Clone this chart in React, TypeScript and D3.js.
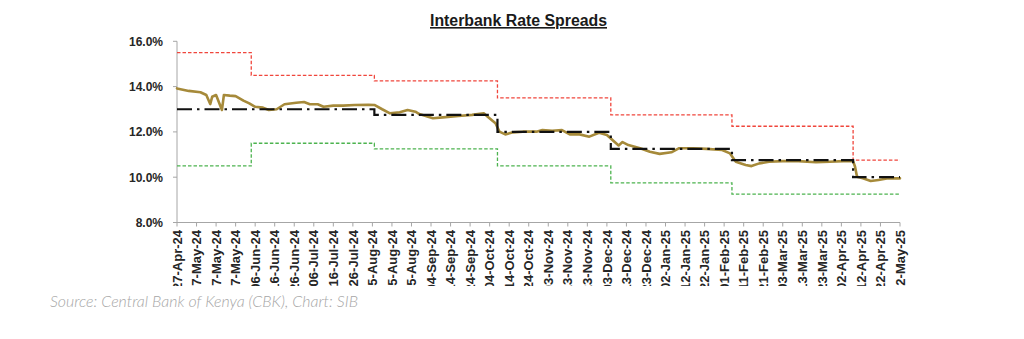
import React from 'react';
import * as d3 from 'd3';

const title = 'Interbank Rate Spreads';
const source = 'Source: Central Bank of Kenya (CBK), Chart: SIB';

const tickDates = [
  '2024-04-27', '2024-05-07', '2024-05-17', '2024-05-27', '2024-06-06', '2024-06-16', '2024-06-26',
  '2024-07-06', '2024-07-16', '2024-07-26', '2024-08-05', '2024-08-15', '2024-08-25', '2024-09-04',
  '2024-09-14', '2024-09-24', '2024-10-04', '2024-10-14', '2024-10-24', '2024-11-03', '2024-11-13',
  '2024-11-23', '2024-12-03', '2024-12-13', '2024-12-23', '2025-01-02', '2025-01-12', '2025-01-22',
  '2025-02-01', '2025-02-11', '2025-02-21', '2025-03-03', '2025-03-13', '2025-03-23', '2025-04-02',
  '2025-04-12', '2025-04-22', '2025-05-02',
];
const yTicks = [8, 10, 12, 14, 16];

// Interbank rate (gold line)
const rateDates = [
  '2024-04-27', '2024-05-03', '2024-05-09', '2024-05-12', '2024-05-14', '2024-05-15', '2024-05-17',
  '2024-05-20', '2024-05-21', '2024-05-24', '2024-05-27', '2024-05-31', '2024-06-03', '2024-06-06',
  '2024-06-10', '2024-06-13', '2024-06-17', '2024-06-21', '2024-06-27', '2024-07-01', '2024-07-04',
  '2024-07-08', '2024-07-11', '2024-07-16', '2024-07-21', '2024-07-27', '2024-08-03', '2024-08-06',
  '2024-08-10', '2024-08-14', '2024-08-19', '2024-08-23', '2024-08-27', '2024-08-29', '2024-09-05',
  '2024-09-10', '2024-09-18', '2024-09-25', '2024-10-01', '2024-10-03', '2024-10-07', '2024-10-09',
  '2024-10-12', '2024-10-16', '2024-10-21', '2024-10-28', '2024-10-31', '2024-11-05', '2024-11-10',
  '2024-11-14', '2024-11-19', '2024-11-24', '2024-11-29', '2024-12-03', '2024-12-07', '2024-12-09',
  '2024-12-11', '2024-12-14', '2024-12-20', '2024-12-25', '2024-12-30', '2025-01-05', '2025-01-09',
  '2025-01-16', '2025-01-23', '2025-01-31', '2025-02-04', '2025-02-07', '2025-02-12', '2025-02-15',
  '2025-02-19', '2025-02-24', '2025-03-03', '2025-03-11', '2025-03-20', '2025-03-27', '2025-04-03',
  '2025-04-08', '2025-04-09', '2025-04-10', '2025-04-13', '2025-04-17', '2025-04-21', '2025-04-26',
  '2025-05-02',
];
const rateValues = [
  13.92, 13.81, 13.75, 13.63, 13.23, 13.55, 13.63,
  12.97, 13.63, 13.6, 13.58, 13.38, 13.26, 13.11,
  13.07, 12.97, 13.0, 13.22, 13.29, 13.32, 13.22,
  13.22, 13.11, 13.16, 13.16, 13.19, 13.2, 13.19,
  13.0, 12.82, 12.87, 12.97, 12.89, 12.79, 12.6,
  12.64, 12.7, 12.75, 12.82, 12.67, 12.38, 12.01,
  11.89, 11.98, 12.01, 12.01, 12.08, 12.05, 12.08,
  11.89, 11.89, 11.79, 11.96, 11.86, 11.55, 11.4,
  11.55, 11.42, 11.28, 11.12, 11.03, 11.1, 11.28,
  11.28, 11.25, 11.2, 11.05, 10.68, 10.54, 10.49,
  10.61, 10.68, 10.71, 10.71, 10.66, 10.68, 10.71,
  10.71, 10.46, 10.02, 9.95, 9.83, 9.88, 9.95,
  9.95,
];

// Central Bank Rate (black dash-dot, step)
const cbrDates = ['2024-04-27', '2024-08-06', '2024-10-08', '2024-12-05', '2025-02-05', '2025-04-08', '2025-05-02'];
const cbrValues = [13.0, 12.75, 12.0, 11.25, 10.75, 10.0, 10.0];

// Upper corridor (red dashed, step)
const upperDates = ['2024-04-27', '2024-06-04', '2024-08-06', '2024-10-08', '2024-12-05', '2025-02-05', '2025-04-08', '2025-05-02'];
const upperValues = [15.5, 14.5, 14.25, 13.5, 12.75, 12.25, 10.75, 10.75];

// Lower corridor (green dashed, step)
const lowerDates = ['2024-04-27', '2024-06-04', '2024-08-06', '2024-10-08', '2024-12-05', '2025-02-05', '2025-05-02'];
const lowerValues = [10.5, 11.5, 11.25, 10.5, 9.75, 9.25, 9.25];

const parse = d3.utcParse('%Y-%m-%d');
const fmt = d3.utcFormat('%d-%b-%y');

const zip = (ds: string[], vs: number[]) => ds.map((d, i) => ({ date: parse(d) as Date, value: vs[i] }));

export default function App() {
  const W = 1024;
  const H = 339;
  const x = d3
    .scaleUtc()
    .domain([parse(tickDates[0]) as Date, parse(tickDates[tickDates.length - 1]) as Date])
    .range([177, 900]);
  const y = d3.scaleLinear().domain([8, 16]).range([222.5, 41.3]);

  const lineLinear = d3
    .line<{ date: Date; value: number }>()
    .x((d) => x(d.date))
    .y((d) => y(d.value));
  const lineStep = d3
    .line<{ date: Date; value: number }>()
    .x((d) => x(d.date))
    .y((d) => y(d.value))
    .curve(d3.curveStepAfter);

  const rate = zip(rateDates, rateValues);
  const cbr = zip(cbrDates, cbrValues);
  const upper = zip(upperDates, upperValues);
  const lower = zip(lowerDates, lowerValues);

  const [x0, x1] = x.range();
  const [yb, yt] = y.range();

  return (
    <svg
      width={W}
      height={H}
      viewBox={`0 0 ${W} ${H}`}
      style={{ position: 'absolute', left: 0, top: 0, background: '#fff' }}
    >
      <defs>
        <clipPath id="lblclip">
          <rect x={0} y={0} width={W} height={286} />
        </clipPath>
      </defs>
      <rect x={0} y={0} width={W} height={H} fill="#fff" />

      <text
        x={518.5}
        y={26}
        textAnchor="middle"
        fontFamily="'Liberation Sans', Arial, sans-serif"
        fontWeight="bold"
        fontSize={16}
        textLength={177}
        lengthAdjust="spacingAndGlyphs"
        textDecoration="underline"
        fill="#1a1a1a"
      >
        {title}
      </text>

      {/* y axis */}
      <line x1={x0} x2={x0} y1={yt} y2={yb} stroke="#a6a6a6" strokeWidth={1} />
      {yTicks.map((t) => (
        <g key={t}>
          <line x1={x0 - 4} x2={x0} y1={y(t)} y2={y(t)} stroke="#a6a6a6" strokeWidth={1} />
          <text
            x={163}
            y={y(t)}
            dy="0.36em"
            textAnchor="end"
            fontFamily="'Liberation Sans', Arial, sans-serif"
            fontWeight="bold"
            fontSize={12}
            fill="#262626"
          >
            {t.toFixed(1) + '%'}
          </text>
        </g>
      ))}

      {/* x axis */}
      <line x1={x0} x2={x1} y1={yb} y2={yb} stroke="#a6a6a6" strokeWidth={1} />
      <g clipPath="url(#lblclip)">
        {tickDates.map((d) => {
          const xx = x(parse(d) as Date);
          return (
            <g key={d}>
              <line x1={xx} x2={xx} y1={yb} y2={yb + 4} stroke="#a6a6a6" strokeWidth={1} />
              <text
                transform={`translate(${xx},230) rotate(-90)`}
                dy="0.36em"
                textAnchor="end"
                fontFamily="'Liberation Sans', Arial, sans-serif"
                fontWeight="bold"
                fontSize={13}
                fill="#262626"
              >
                {fmt(parse(d) as Date)}
              </text>
            </g>
          );
        })}
      </g>

      {/* corridor lines */}
      <path d={lineStep(upper) || ''} fill="none" stroke="#f0463c" strokeWidth={1.3} strokeDasharray="3.5,2" />
      <path d={lineStep(lower) || ''} fill="none" stroke="#4cb34f" strokeWidth={1.3} strokeDasharray="3.5,2" />

      {/* interbank rate */}
      <path
        d={lineLinear(rate) || ''}
        fill="none"
        stroke="#a68a3a"
        strokeWidth={2.6}
        strokeLinejoin="round"
        strokeLinecap="round"
      />

      {/* CBR */}
      <path d={lineStep(cbr) || ''} fill="none" stroke="#111" strokeWidth={2.2} strokeDasharray="15,5,2.5,5" />

      <text
        x={50}
        y={307}
        fontFamily="Lato, 'Open Sans', sans-serif"
        fontStyle="italic"
        fontWeight={300}
        fontSize={15}
        textLength={308}
        lengthAdjust="spacingAndGlyphs"
        fill="#a6a6a6"
      >
        {source}
      </text>
    </svg>
  );
}
